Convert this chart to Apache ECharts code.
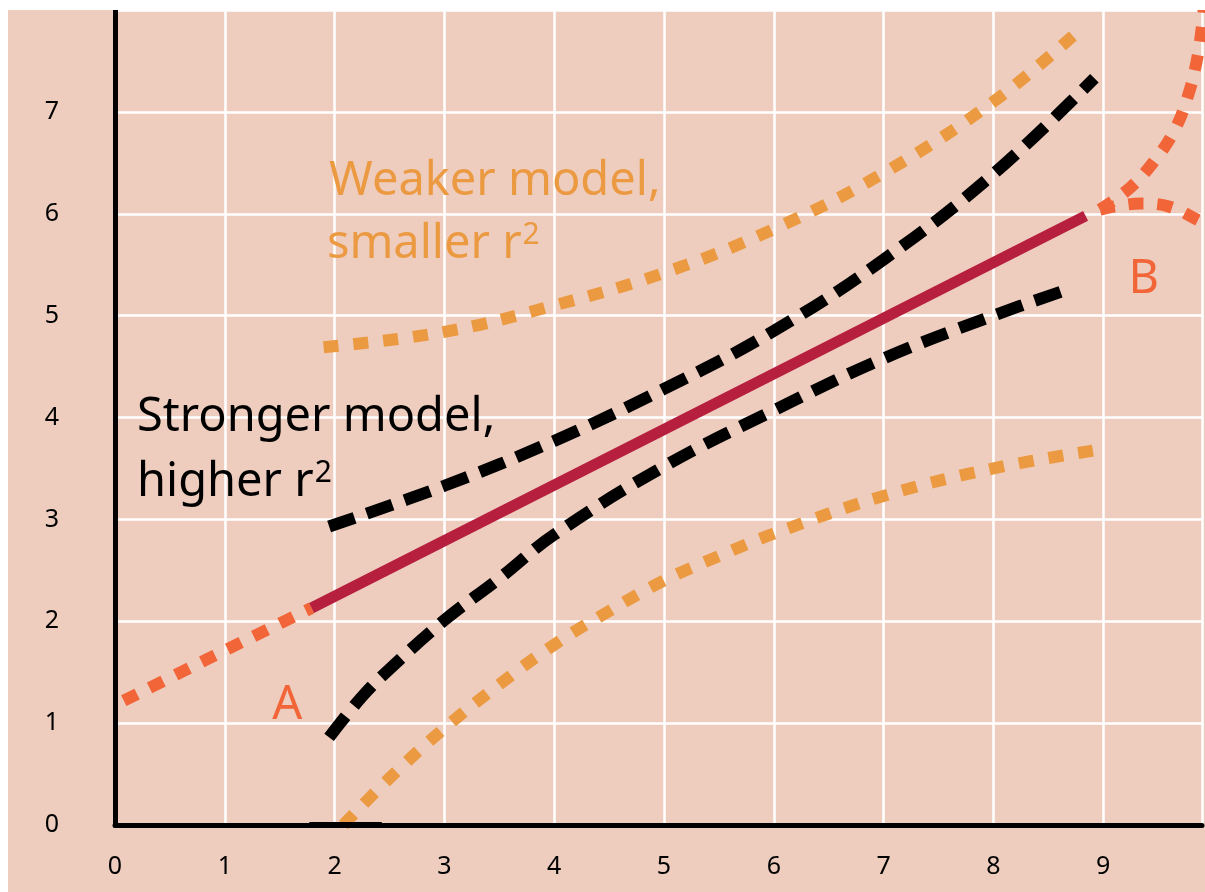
<!DOCTYPE html>
<html>
<head>
<meta charset="utf-8">
<script src="https://cdn.jsdelivr.net/npm/echarts@6/dist/echarts.min.js"></script>
<style>
    html, body { margin: 0; padding: 0; background: #fff; }
    #main { position: absolute; left: 8px; top: 10px; width: 1197px; height: 882px; }
</style>
</head>
<body>
<div id="main"></div>
<script>
// 回归直线（实线）和它两端的点线延伸
var fitLine = [[1.79, 2.13], [8.84, 5.98]]
var fitLeft = [[0.08, 1.22], [0.9, 1.66], [1.79, 2.13]]
var fitRightUp = [[8.97, 6.04], [9.24, 6.25], [9.46, 6.51], [9.65, 6.82], [9.77, 7.15], [9.85, 7.49], [9.9, 7.85], [9.94, 8.3]]
var fitRightDown = [[8.97, 6.04], [9.15, 6.08], [9.35, 6.1], [9.6, 6.07], [9.86, 5.94], [9.95, 5.88]]
// 强模型（黑色虚线）
var strongUpper = [[1.95, 2.93], [3.0, 3.33], [4.0, 3.77], [5.0, 4.28], [6.0, 4.85], [7.0, 5.55], [8.0, 6.39], [8.92, 7.33]]
var strongLower = [[1.95, 0.86], [2.25, 1.26], [2.5, 1.53], [3.0, 2.01], [3.5, 2.42], [4.0, 2.85], [5.0, 3.52], [6.0, 4.07], [7.0, 4.58], [8.0, 5.0], [8.71, 5.27]]
// 弱模型（橙色点线）
var weakUpper = [[1.9, 4.69], [3.0, 4.84], [4.0, 5.1], [5.0, 5.42], [6.0, 5.85], [7.0, 6.4], [8.0, 7.1], [8.75, 7.77]]
var weakLower = [[2.08, 0.0], [2.5, 0.46], [3.0, 0.95], [3.5, 1.38], [4.0, 1.77], [4.5, 2.1], [5.0, 2.4], [5.5, 2.64], [6.0, 2.86], [7.0, 3.23], [8.0, 3.5], [9.0, 3.69]]
// x轴上的一小段加粗
var axisStub = [[1.77, 0], [2.43, 0]]

var xTicks = [0, 1, 2, 3, 4, 5, 6, 7, 8, 9]
var yTicks = [0, 1, 2, 3, 4, 5, 6, 7]

// 文字标注（数据坐标），{s|2} 是上标
var notes = [
    { text: 'Weaker model,', x: 1.95, y: 6.32, color: '#EB9A42', align: 'left' },
    { text: 'smaller r{s|2}', x: 1.93, y: 5.70, color: '#EB9A42', align: 'left' },
    { text: 'Stronger model,', x: 0.2, y: 4.0, color: '#000', align: 'left' },
    { text: 'higher r{s|2}', x: 0.2, y: 3.36, color: '#000', align: 'left' },
    { text: 'A', x: 1.57, y: 1.17, color: '#F26539', align: 'center' },
    { text: 'B', x: 9.37, y: 5.35, color: '#F26539', align: 'center' }
]

var FONT = '"Noto Sans", "Open Sans", sans-serif'

function lineSeries(data, color, width, dash, smooth) {
    return {
        type: 'line',
        data: data,
        showSymbol: false,
        symbol: 'none',
        smooth: smooth,
        silent: true,
        lineStyle: { color: color, width: width, type: dash, cap: 'butt' }
    }
}

var myChart = echarts.init(document.getElementById('main'))
var option = {
    backgroundColor: '#EECDBE',
    animation: false,
    grid: { left: 107, top: 0, right: 0, bottom: 67 },
    xAxis: {
        type: 'value',
        min: 0,
        max: 9.9,
        interval: 1,
        axisLine: { show: true, onZero: false, lineStyle: { color: '#000', width: 5 } },
        axisTick: { show: false },
        axisLabel: {
            color: '#000',
            fontSize: 25,
            fontFamily: FONT,
            margin: 29,
            formatter: function (v) { return xTicks.indexOf(v) >= 0 ? String(v) : '' }
        },
        splitLine: { show: true, lineStyle: { color: '#fff', width: 2.5 } }
    },
    yAxis: {
        type: 'value',
        min: 0,
        max: 8,
        interval: 1,
        axisLine: { show: true, onZero: false, lineStyle: { color: '#000', width: 5 } },
        axisTick: { show: false },
        axisLabel: {
            color: '#000',
            fontSize: 25,
            fontFamily: FONT,
            margin: 56,
            formatter: function (v) { return yTicks.indexOf(v) >= 0 ? String(v) : '' }
        },
        splitLine: { show: true, lineStyle: { color: '#fff', width: 2.5 } }
    },
    series: [
        lineSeries(weakUpper, '#EB9A42', 12, [15, 15], 0.4),
        lineSeries(weakLower, '#EB9A42', 12, [15, 15], 0.4),
        lineSeries(strongUpper, '#000', 12, [27, 13], 0.4),
        lineSeries(strongLower, '#000', 12, [27, 13], 0.4),
        lineSeries(fitLeft, '#F26539', 12, [15, 14], 0.3),
        lineSeries(fitRightUp, '#F26539', 12, [15, 14], 0.4),
        lineSeries(fitRightDown, '#F26539', 12, [15, 14], 0.4),
        lineSeries(fitLine, '#B71F3F', 11, 'solid', false),
        lineSeries(axisStub, '#000', 6, 'solid', false)
    ]
}
myChart.setOption(option)

// 把标注文字放到对应坐标
var texts = notes.map(function (n) {
    var p = myChart.convertToPixel({ gridIndex: 0 }, [n.x, n.y])
    return {
        type: 'text',
        x: p[0],
        y: p[1],
        silent: true,
        style: {
            text: n.text,
            fill: n.color,
            fontSize: 47,
            fontFamily: FONT,
            textAlign: n.align,
            textVerticalAlign: 'middle',
            rich: {
                s: { fontSize: 30, fill: n.color, fontFamily: FONT, verticalAlign: 'top', padding: [0, 0, 18, 1] }
            }
        }
    }
})
myChart.setOption({ graphic: texts })
</script>
</body>
</html>
